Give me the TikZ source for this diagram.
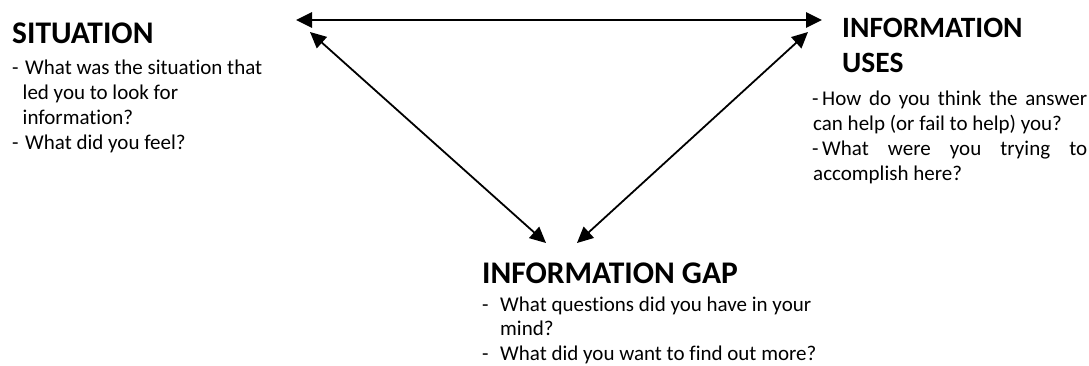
\documentclass[tikz,border=0pt]{standalone}
\usepackage{fontspec}
\setmainfont{Carlito}[Ligatures=NoCommon]
\usetikzlibrary{arrows.meta}
\tikzset{
  ttl/.style={font=\fontsize{31.5}{36}\selectfont\bfseries, anchor=base west, inner sep=0pt},
  ttlu/.style={font=\fontsize{29.5}{34}\selectfont\bfseries, anchor=base west, inner sep=0pt},
  bdy/.style={font=\fontsize{21}{25}\selectfont, anchor=base west, inner sep=0pt},
  tip/.tip={Triangle[length=16pt,width=15pt]},
  arr/.style={tip-tip, line width=1.8pt},
  toparr/.style={tip-tip, line width=2.8pt}
}
\begin{document}
\begin{tikzpicture}[x=1pt,y=-1pt]
\useasboundingbox (0,0) rectangle (1089,365);
% Situation
\node[ttl] (sit) at (12,43) {SITUATION};
\node[bdy] (s1d) at (12,74) {-};
\node[bdy] (s1) at (25,74) {What was the situation that};
\node[bdy] (s2) at (22.5,99) {led you to look for};
\node[bdy] (s3) at (22.5,124) {information?};
\node[bdy] (s4d) at (12,149) {-};
\node[bdy] (s4) at (25,149) {What did you feel?};
% Uses
\node[ttlu] (use1) at (842,37) {INFORMATION};
\node[ttlu] (use2) at (842,72) {USES};
\node[bdy] (u1d) at (812,105) {-};
\node[bdy] (u1) at (822,105) {\makebox[265pt][s]{How do you think the answer}};
\node[bdy] (u2) at (813,130) {can help (or fail to help) you?};
\node[bdy] (u3d) at (812,155) {-};
\node[bdy] (u3) at (822,155) {\makebox[265pt][s]{What were you trying to}};
\node[bdy] (u4) at (813,180) {accomplish here?};
% Gap
\node[ttl] (gap) at (482,283) {INFORMATION GAP};
\node[bdy] (g1d) at (482,311) {-};
\node[bdy] (g1) at (500,311) {What questions did you have in your};
\node[bdy] (g2) at (500,335.5) {mind?};
\node[bdy] (g3d) at (482,360) {-};
\node[bdy] (g3) at (500,360) {What did you want to find out more?};
% arrow ends
\coordinate (tl) at (296,20);
\coordinate (tr) at (822,20);
\coordinate (sl) at (310,32);
\coordinate (ur) at (808,32);
\coordinate (gl) at (546,243);
\coordinate (gr) at (577,243);
\draw[toparr] (tl) -- (tr);
\draw[arr] (sl) -- (gl);
\draw[arr] (ur) -- (gr);
\end{tikzpicture}
\end{document}
